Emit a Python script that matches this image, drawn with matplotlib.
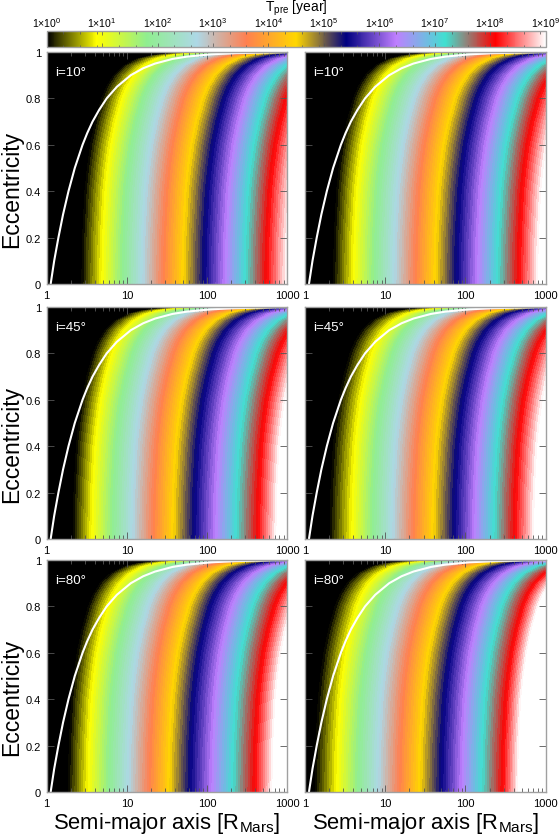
import numpy as np
import matplotlib
matplotlib.use("Agg")
import matplotlib.pyplot as plt
from matplotlib.colors import LinearSegmentedColormap, LogNorm, Normalize
from matplotlib.cm import ScalarMappable
from matplotlib.scale import InvertedLogTransform
from matplotlib.transforms import blended_transform_factory, IdentityTransform
from matplotlib.ticker import LogLocator, FixedLocator, NullFormatter, FixedFormatter

plt.rcParams['font.family'] = ['Liberation Sans', 'DejaVu Sans']
plt.rcParams['mathtext.fontset'] = 'custom'
plt.rcParams['mathtext.rm'] = 'Liberation Sans'
plt.rcParams['mathtext.default'] = 'regular'

# colour palette: position in log10(T) and colour
palette_pos = [0, 0.9, 1.8, 2.7, 3.6, 4.5, 5.4, 6.3, 7.2, 8.1, 9]
palette_col = ['#000000', '#ffff00', '#90ee90', '#add8e6', '#ff7f50', '#ffd700',
               '#000080', '#bf7fff', '#40e0d0', '#ff0000', '#ffffff']

# log10(T) at which the band positions were read at e=0
band_logT = [0, 0.9, 5.4, 8.1, 9]
# log10(a) of those bands at e=0, read per panel
left_10 = [0.437, 0.687, 1.967, 2.747, 3.00]
right_10 = [0.354, 0.602, 1.890, 2.670, 2.91]
left_45 = [0.330, 0.562, 1.840, 2.640, 2.87]
right_45 = [0.312, 0.582, 1.860, 2.620, 2.86]
left_80 = [0.270, 0.515, 1.790, 2.600, 2.82]
right_80 = [0.125, 0.395, 1.700, 2.470, 2.66]

# rightward drift of every band with eccentricity
ecc_rows = [0, 0.2, 0.4, 0.5, 0.6, 0.7, 0.8, 0.85, 0.9, 0.94, 0.97, 0.985, 0.995, 1.0]
drift = [0, 0.01, 0.04, 0.07, 0.11, 0.17, 0.25, 0.31, 0.40, 0.52, 0.68, 0.85, 1.13, 1.60]

# white curve
curve_a = [1.12, 1.24, 1.40, 1.60, 1.87, 2.24, 2.80, 3.20, 3.73, 4.5, 5.6, 7.5, 11.2, 16, 22.4, 37, 56, 112, 224, 560, 1000]
curve_e = [0, 0.10, 0.20, 0.30, 0.40, 0.50, 0.60, 0.65, 0.70, 0.75, 0.80, 0.85, 0.90, 0.93, 0.95, 0.97, 0.98, 0.99, 0.995, 0.998, 0.999]

panels = [('i=10°', left_10, right_10), ('i=45°', left_45, right_45), ('i=80°', left_80, right_80)]

W, H = 560, 837
fig = plt.figure(figsize=(W / 100, H / 100), dpi=100)
cmap = LinearSegmentedColormap.from_list('pal', [(p / 9, c) for p, c in zip(palette_pos, palette_col)], N=512)
norm = Normalize(0, 9)
levels = np.arange(0, 9.01, 0.1)
GREY = '#a0a0a0'
TICK = '#555555'


def rect(x0, x1, y0, y1):
    return [x0 / W, 1 - y1 / H, (x1 - x0) / W, (y1 - y0) / H]


col_x = [(46.7, 287.2), (305.0, 545.7)]
row_y = [(53, 285), (308, 540), (561, 793)]
row_arr = np.array(ecc_rows)
drift_arr = np.array(drift)

for r, (label, lft, rgt) in enumerate(panels):
    for c, vals in enumerate((lft, rgt)):
        ax = fig.add_axes(rect(*col_x[c], *row_y[r]))
        ax.set_xscale('log')
        base = np.array([-2.0] + list(vals) + [7.0])
        zcol = np.array([-0.5] + band_logT + [9.5], dtype=float)
        X = base[None, :] + drift_arr[:, None]
        Y = np.repeat(row_arr[:, None], base.size, axis=1)
        Z = np.repeat(zcol[None, :], row_arr.size, axis=0)
        log_to_data = blended_transform_factory(InvertedLogTransform(10), IdentityTransform()) + ax.transData
        ax.contourf(X, Y, Z, levels=levels, cmap=cmap, norm=norm, extend='both',
                    antialiased=False, transform=log_to_data)
        ax.plot(curve_a, curve_e, color='white', lw=1.5, zorder=3, solid_capstyle='butt')
        ax.set_xlim(1, 1000)
        ax.set_ylim(0, 1)
        ax.text(0.035, 0.915, label, transform=ax.transAxes, color='white', fontsize=9.6,
                va='center', ha='left', zorder=4)
        ax.set_yticks([0, 0.2, 0.4, 0.6, 0.8, 1.0])
        ax.set_yticklabels(['0', '0.2', '0.4', '0.6', '0.8', '1'])
        ax.set_xticks([1, 10, 100, 1000])
        ax.set_xticklabels(['1', '10', '100', '1000'])
        ax.xaxis.set_minor_locator(LogLocator(10, subs=np.arange(2, 10), numticks=12))
        ax.xaxis.set_minor_formatter(NullFormatter())
        ax.tick_params(axis='both', which='major', direction='in', top=True, right=True,
                       length=5, width=0.6, color=TICK, labelsize=8, pad=4)
        ax.tick_params(axis='x', which='minor', direction='in', top=True,
                       length=2.8, width=0.6, color=TICK)
        ax.set_axisbelow(False)
        if c == 1:
            ax.tick_params(axis='y', labelleft=False)
        for s in ax.spines.values():
            s.set_color(GREY)
            s.set_linewidth(1.0)
            s.set_zorder(6)
        if c == 0:
            ax.set_ylabel('Eccentricity', fontsize=16.5)
            ax.yaxis.set_label_coords(-0.098, 0.41)
        if r == 2:
            ax.set_xlabel(r'Semi-major axis [R$_{Mars}$]', fontsize=15.8, labelpad=2)

# colour bar
cax = fig.add_axes(rect(46.7, 545.7, 32, 48))
cb = fig.colorbar(ScalarMappable(norm=LogNorm(1, 1e9), cmap=cmap), cax=cax, orientation='horizontal')
cax.xaxis.set_major_locator(FixedLocator([10.0 ** k for k in range(10)]))
cax.xaxis.set_major_formatter(FixedFormatter([f'1×10$^{k}$' for k in range(10)]))
cax.xaxis.set_minor_locator(LogLocator(10, subs=(2, 4, 8), numticks=12))
cax.xaxis.set_minor_formatter(NullFormatter())
cax.tick_params(axis='x', which='both', direction='in', top=True, bottom=True,
                labeltop=True, labelbottom=False, color=TICK, width=0.5)
cax.tick_params(axis='x', which='major', length=3, labelsize=7.6, pad=1.5)
cax.tick_params(axis='x', which='minor', length=1.8)
cb.outline.set_edgecolor(GREY)
cb.outline.set_linewidth(1.0)
fig.text(296 / W, 1 - 8.5 / H, r'T$_{pre}$ [year]', fontsize=10, ha='center', va='center')

fig.savefig('out.png', dpi=100)
